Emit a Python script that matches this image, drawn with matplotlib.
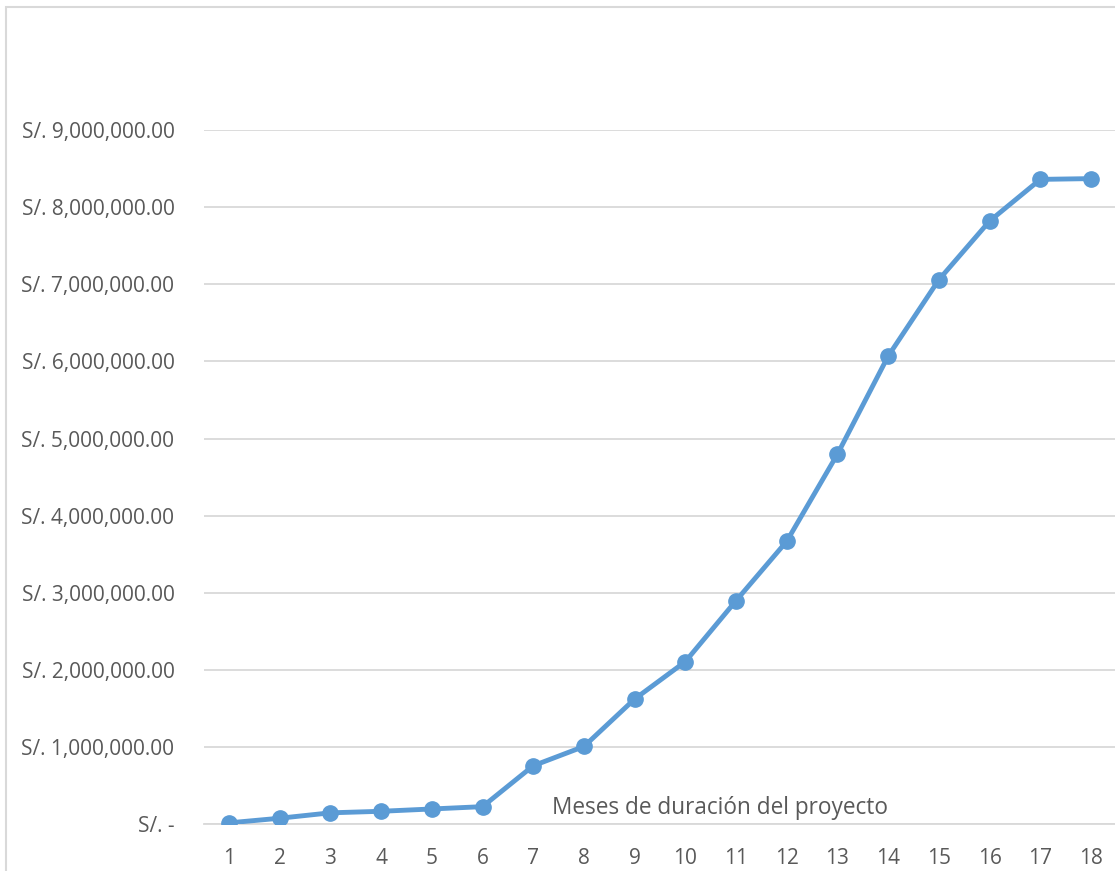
import matplotlib.pyplot as plt
from matplotlib.patches import Rectangle
from matplotlib.ticker import FuncFormatter

meses = list(range(1, 19))
costo_acumulado = [20000, 80000, 150000, 170000, 200000, 230000, 760000, 1010000,
                   1625000, 2110000, 2900000, 3670000, 4800000, 6070000, 7060000,
                   7820000, 8360000, 8370000]
y_ticks = [0, 1000000, 2000000, 3000000, 4000000, 5000000, 6000000, 7000000, 8000000, 9000000]
x_title = 'Meses de duración del proyecto'

plt.rcParams['font.family'] = ['Open Sans', 'DejaVu Sans']
GRAY = '#595959'
BLUE = '#5B9BD5'

W, H = 1115, 871
fig = plt.figure(figsize=(W / 100, H / 100), dpi=100)

# chart frame (only left and top edges fall inside the picture)
fig.patches.append(Rectangle((6 / W, -0.05), 1.2, (H - 7.5) / H + 0.05,
                             transform=fig.transFigure, fill=False,
                             edgecolor='#D9D9D9', linewidth=1.5))

left, right = 203.6 / W, 1116.4 / W
bottom, top = (H - 824.4) / H, (H - 130) / H
ax = fig.add_axes([left, bottom, right - left, top - bottom])

ax.plot(meses, costo_acumulado, color=BLUE, linewidth=3.5,
        marker='o', markersize=11, solid_capstyle='round', zorder=3)

ax.set_xlim(0.5, 18.5)
ax.set_ylim(0, 9000000)
ax.set_xticks(meses)
ax.set_yticks(y_ticks)

def fmt(v, pos):
    if v == 0:
        return 'S/. -'
    return 'S/. {:,.2f}'.format(v)

ax.yaxis.set_major_formatter(FuncFormatter(fmt))
ax.grid(axis='y', color='#D9D9D9', linewidth=1.3, zorder=0)
ax.set_axisbelow(True)
for s in ['top', 'right', 'left']:
    ax.spines[s].set_visible(False)
ax.spines['bottom'].set_color('#D9D9D9')
ax.spines['bottom'].set_linewidth(1.3)
ax.tick_params(length=0, labelsize=15, labelcolor=GRAY)
ax.tick_params(axis='x', pad=17)
ax.tick_params(axis='y', pad=21)
ax.set_clip_on(False)

fig.text(720 / W, (H - 808) / H, x_title, ha='center', va='center',
         fontsize=16.3, color=GRAY)

fig.savefig('out.png', dpi=100)
